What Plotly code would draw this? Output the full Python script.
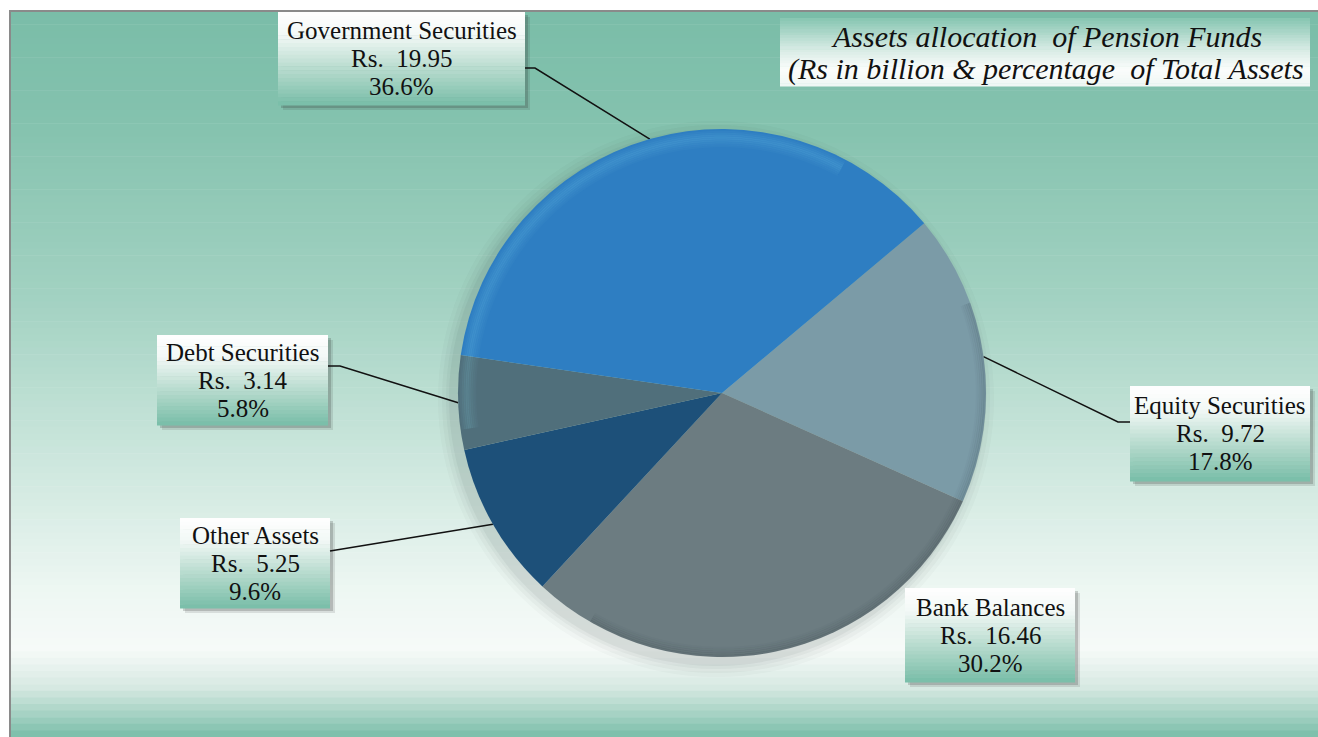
import math
import plotly.graph_objects as go

# data
labels = ["Equity Securities", "Bank Balances", "Other Assets", "Debt Securities", "Government Securities"]
values = [9.72, 16.46, 5.25, 3.14, 19.95]
colors = ["#7B9BA7", "#6C7C81", "#1D5079", "#506F7B", "#2E7EC2"]
title_lines = ["Assets allocation\u00a0 of Pension Funds",
               "(Rs in billion &amp; percentage\u00a0 of Total Assets"]

W, H = 1318, 737
CX, CY, R = 722, 393, 264
ROTATION = 50
SERIF = "Liberation Serif"

# label boxes in window pixels: x0, y0, x1, y1
boxes = {
    "Government Securities": (278, 12, 525, 105),
    "Debt Securities": (157, 335, 328, 425),
    "Other Assets": (180, 518, 330, 608),
    "Equity Securities": (1130, 386, 1310, 481),
    "Bank Balances": (905, 588, 1075, 682),
}
leaders = {  # box anchor for the leader line and its short horizontal run
    "Government Securities": (525, 68, 10),
    "Debt Securities": (328, 366, 12),
    "Other Assets": (330, 551, 0),
    "Equity Securities": (1130, 422, -12),
}


def px(x):
    return x / W


def py(y):
    return 1 - y / H


def hex2rgb(h):
    h = h.lstrip("#")
    return [int(h[i:i + 2], 16) for i in (0, 2, 4)]


def lerp_color(stops, t):
    for (t0, c0), (t1, c1) in zip(stops, stops[1:]):
        if t0 <= t <= t1:
            f = (t - t0) / (t1 - t0) if t1 > t0 else 0
            a, b = hex2rgb(c0), hex2rgb(c1)
            return "rgb(%d,%d,%d)" % tuple(round(a[i] + (b[i] - a[i]) * f) for i in range(3))
    return stops[-1][1]


shapes = []


def gradient_rect(x0, y0, x1, y1, stops, n=20):
    h = (y1 - y0) / n
    for i in range(n):
        t = (i + 0.5) / n
        shapes.append(dict(type="rect", xref="paper", yref="paper", layer="below",
                           x0=px(x0), x1=px(x1), y0=py(y0 + i * h), y1=py(y0 + (i + 1) * h + 0.6),
                           fillcolor=lerp_color(stops, t), line=dict(width=0)))


def arc(a0, a1, r, color, width):
    pts = []
    for i in range(61):
        a = math.radians(a0 + (a1 - a0) * i / 60)
        pts.append("%f %f" % (px(CX + r * math.sin(a)), py(CY - r * math.cos(a))))
    shapes.append(dict(type="path", xref="paper", yref="paper", layer="above",
                       path="M " + " L ".join(pts), line=dict(color=color, width=width)))


# page background gradient
bg_stops = [(0.0, "#7ABDA8"), (0.15, "#84C2AE"), (0.4, "#A3D2C2"), (0.6, "#C9E5DB"),
            (0.8, "#EEF7F3"), (0.88, "#F6FAF8"), (0.93, "#D8EAE3"), (0.97, "#A4D1C2"), (1.0, "#78BDA8")]
gradient_rect(10, 11, W, H, bg_stops, n=110)
shapes.append(dict(type="rect", xref="paper", yref="paper", layer="below",
                   x0=px(10), x1=px(W + 20), y0=py(11), y1=py(H + 20),
                   line=dict(color="#8A8A8A", width=2), fillcolor="rgba(0,0,0,0)"))

# soft shadow under the pie, towards the lower left
for k, op in [(14, 0.025), (10, 0.035), (6, 0.045), (3, 0.06)]:
    shapes.append(dict(type="circle", xref="paper", yref="paper", layer="below",
                       x0=px(CX - R - k - 6), x1=px(CX + R + k - 6),
                       y0=py(CY + R + k + 6), y1=py(CY - R - k + 6),
                       fillcolor="rgba(50,60,60,%.3f)" % op, line=dict(width=0)))

box_stops = [(0.0, "#FFFFFF"), (0.25, "#F2F8F6"), (0.6, "#B9DCCF"), (1.0, "#78BDA8")]
title_stops = [(0.0, "#86C5B1"), (0.45, "#D5EAE3"), (0.75, "#FBFDFC"), (1.0, "#EEF6F3")]

annotations = []


def text_line(x, y, text, size, italic=False):
    annotations.append(dict(
        xref="paper", yref="paper", x=px(x), y=py(y),
        text="<i>%s</i>" % text if italic else text,
        showarrow=False, xanchor="center", yanchor="middle",
        font=dict(family=SERIF, size=size, color="#111111")))


total = sum(values)
for name, v in zip(labels, values):
    x0, y0, x1, y1 = boxes[name]
    for k, op in [(5, 0.12), (3, 0.2)]:
        shapes.append(dict(type="rect", xref="paper", yref="paper", layer="below",
                           x0=px(x0 + k), x1=px(x1 + k), y0=py(y0 + k), y1=py(y1 + k),
                           fillcolor="rgba(40,40,40,%.2f)" % op, line=dict(width=0)))
    gradient_rect(x0, y0, x1, y1, box_stops, n=24)
    cx, cy = (x0 + x1) / 2, (y0 + y1) / 2
    lines = [name, "Rs.\u00a0 %.2f" % v, "%.1f%%" % (100 * v / total)]
    for i, s in enumerate(lines):
        text_line(cx, cy + (i - 1) * 28, s, 25)

# leader lines to slice mid-angles
cum = 0
for name, v in zip(labels, values):
    mid = ROTATION + (cum + v / 2) / total * 360
    cum += v
    if name not in leaders:
        continue
    bx, by, run = leaders[name]
    ex = CX + R * math.sin(math.radians(mid))
    ey = CY - R * math.cos(math.radians(mid))
    path = "M %f %f L %f %f L %f %f" % (px(bx), py(by), px(bx + run), py(by), px(ex), py(ey))
    shapes.append(dict(type="path", xref="paper", yref="paper", layer="below", path=path,
                       line=dict(color="#111111", width=1.5)))

# soft bevel on the pie rim: light band on the upper left, darker edge on the lower right
for d, op in [(3, 0.04), (5, 0.07), (7, 0.10), (9, 0.12), (11, 0.10), (13, 0.07), (15, 0.05), (17, 0.03)]:
    arc(262, 388, R - d, "rgba(150,235,255,%.2f)" % op, 2.5)
for d, op in [(1, 0.10), (3, 0.08), (5, 0.06), (7, 0.04), (9, 0.02)]:
    arc(70, 210, R - d, "rgba(10,20,30,%.2f)" % op, 2.5)

# title box
gradient_rect(780, 18, 1310, 86, title_stops, n=24)
for i, s in enumerate(title_lines):
    text_line(1046, 37 + i * 32, s, 30, italic=True)

fig = go.Figure(go.Pie(
    labels=labels, values=values, sort=False, direction="clockwise", rotation=ROTATION,
    textinfo="none", hoverinfo="label+value+percent",
    marker=dict(colors=colors, line=dict(width=0)),
    domain=dict(x=[px(CX - R), px(CX + R)], y=[py(CY + R), py(CY - R)]),
))

fig.update_layout(
    width=W, height=H, margin=dict(l=0, r=0, t=0, b=0),
    paper_bgcolor="#FFFFFF", plot_bgcolor="#FFFFFF",
    showlegend=False, shapes=shapes, annotations=annotations,
)

fig.write_html("out.html", config={"displayModeBar": False},
               post_script="document.body.style.margin='0';"
                           "document.body.style.overflow='hidden';")
